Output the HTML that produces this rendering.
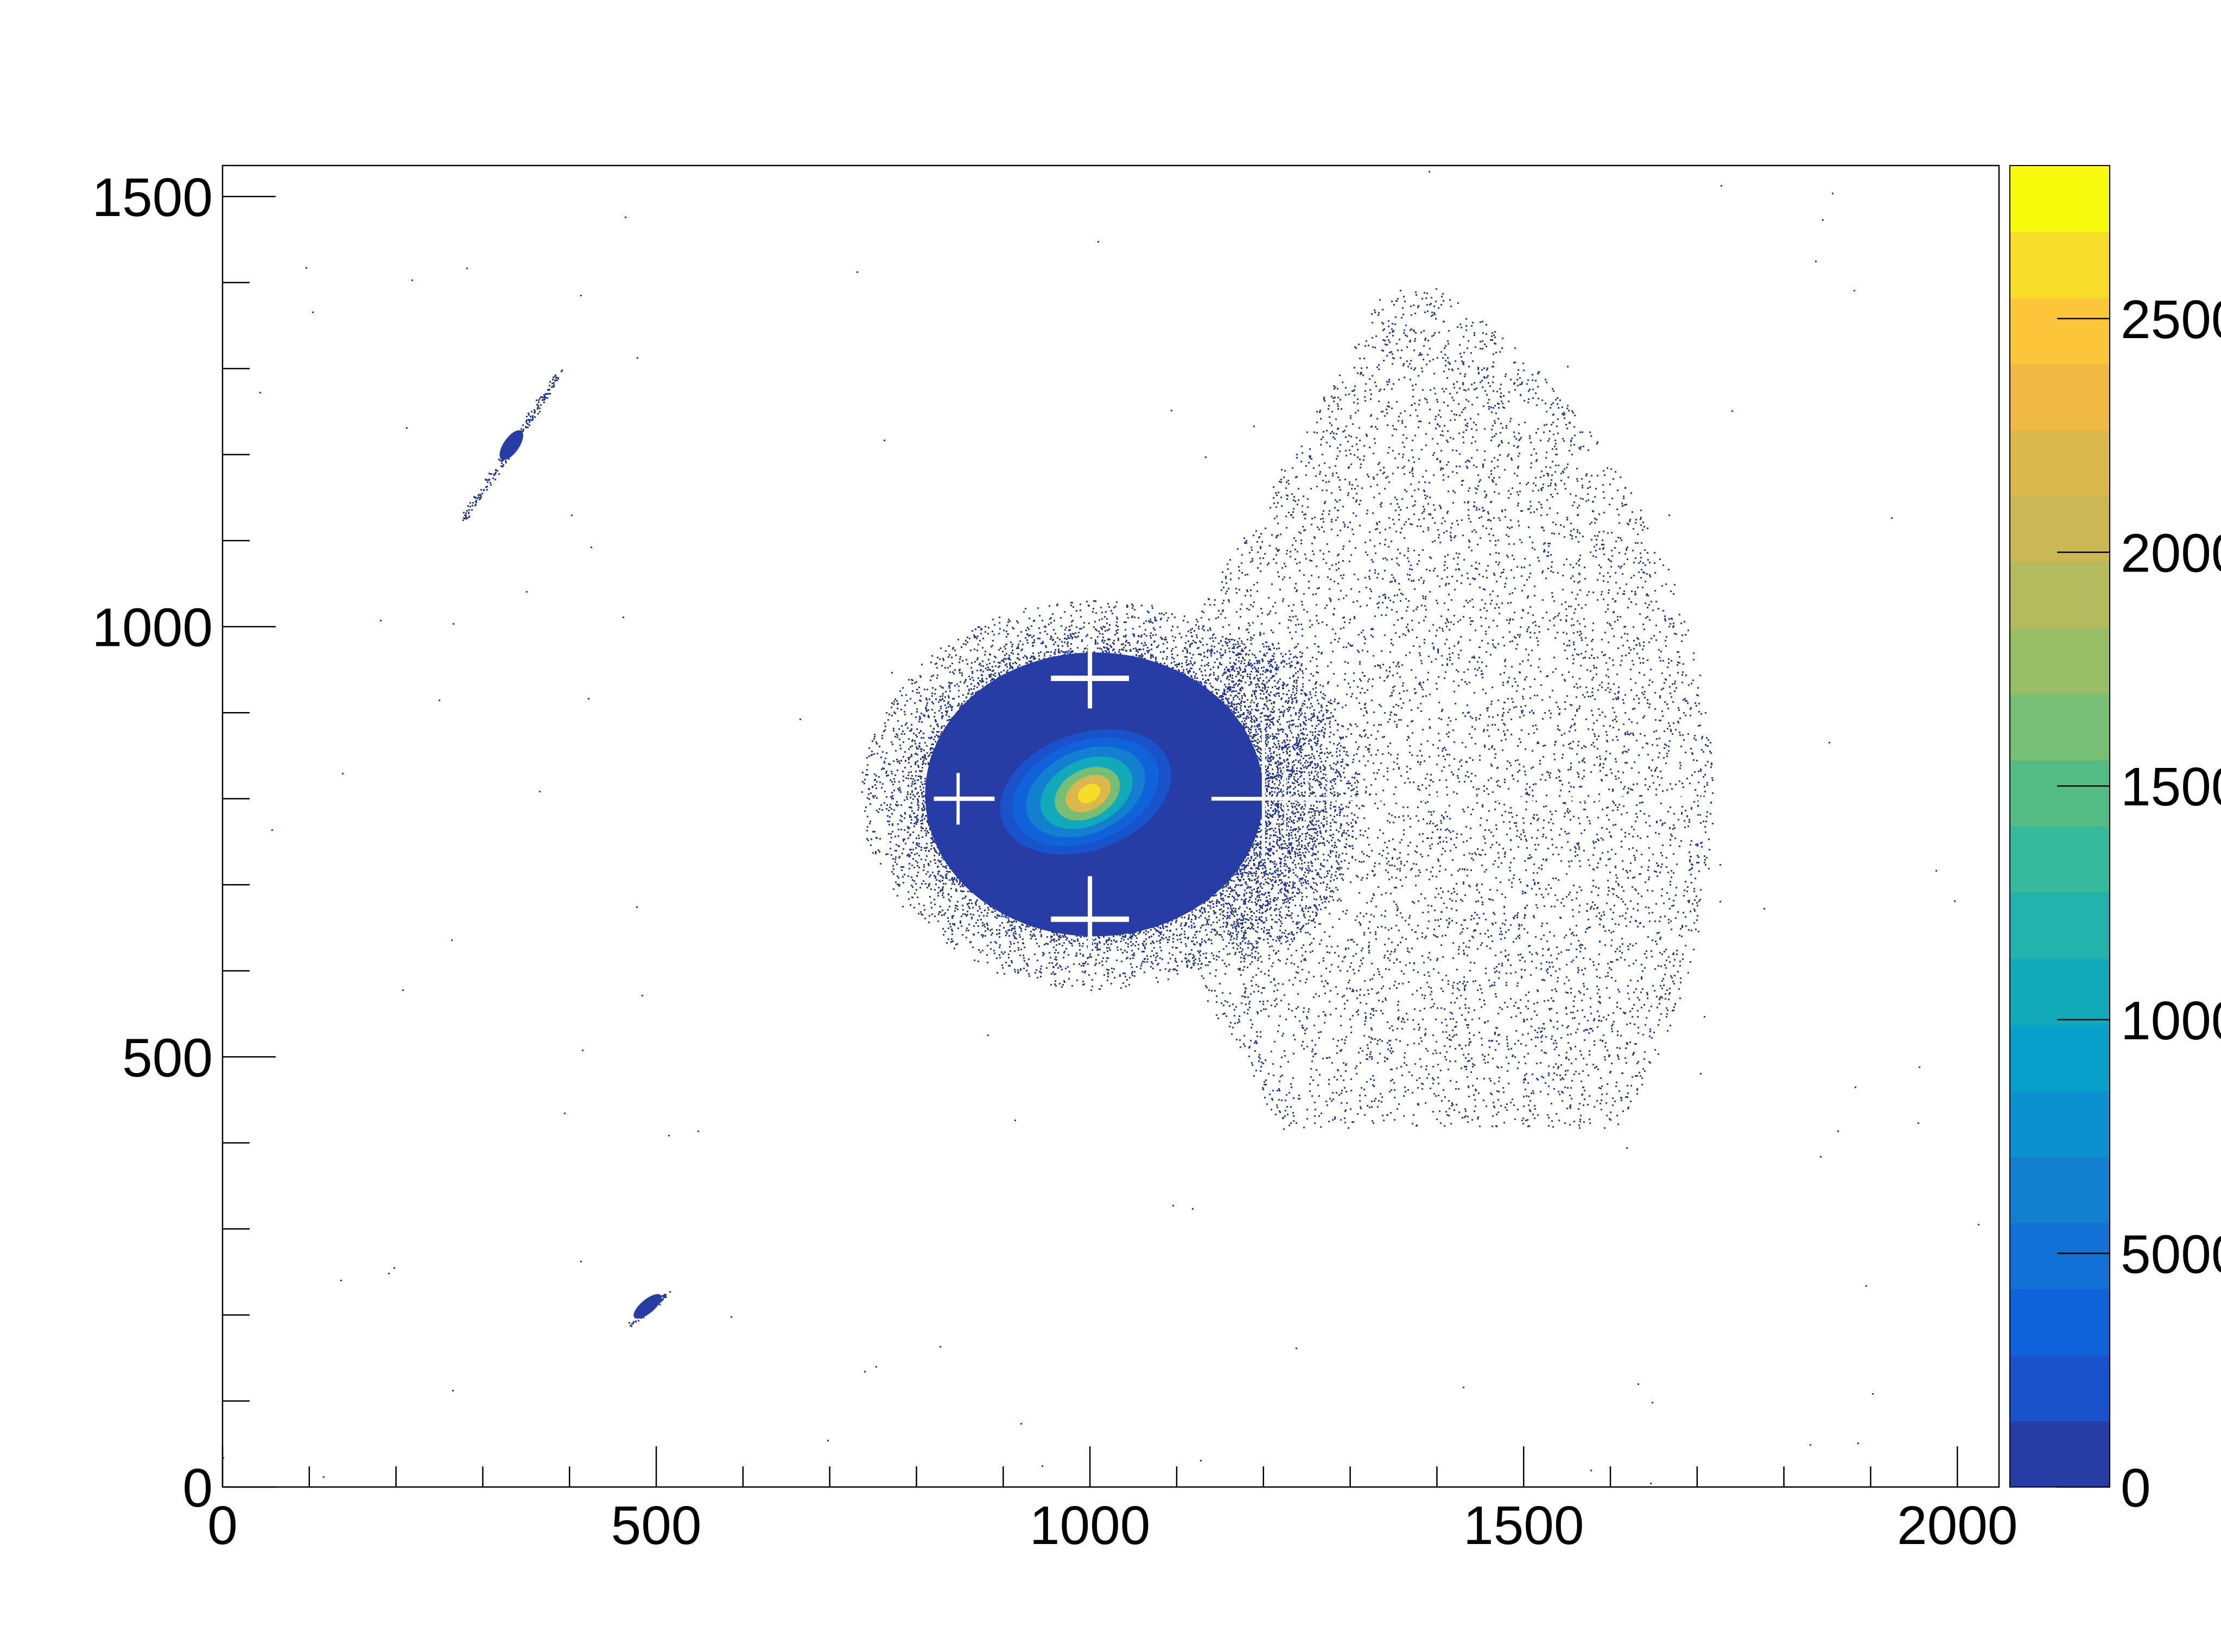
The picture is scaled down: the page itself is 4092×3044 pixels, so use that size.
<!DOCTYPE html>
<html><head><meta charset="utf-8"><title>2D histogram</title>
<style>
html,body{margin:0;padding:0;background:#fff;}
svg{display:block;}
text{font-family:"Liberation Sans",sans-serif;font-size:100px;fill:#000;}
</style></head>
<body>
<svg id="chart" width="4092" height="3044" viewBox="0 0 4092 3044" xmlns="http://www.w3.org/2000/svg">
<rect x="0" y="0" width="4092" height="3044" fill="#fff"/>
<g id="plot"></g>
<g id="axes"></g>
<g id="cbar"></g>
</svg>
<script>
// ---- data ----
const xTicks = [0, 500, 1000, 1500, 2000];
const yTicks = [0, 500, 1000, 1500];
const zTicks = [0, 5000, 10000, 15000, 20000, 25000];
const zTickLabels = ["0", "5000", "10000", "15000", "20000", "25000"];
const xRange = [0, 2048];
const yRange = [0, 1536];
const zMax = 28275;
const palette = ["#283ca5","#1953cc","#1063d8","#1171d4","#1380cf","#0b91cf","#06a0cb","#12aabb","#21b3ab","#36b99a","#53bc85","#76be74","#97bd66","#b2bb5c","#c9b854","#dcb74c","#efb944","#fcc63a","#f6dc27","#f9fb0e"];
// blob contour levels: centre x, centre y, radius x, radius y, rotation deg, palette index
const blobCx = [1005, 995, 995, 995, 996, 997, 998, 999];
const blobCy = [805, 808, 808, 808, 807, 806, 806, 806];
const blobRx = [195, 102, 88, 72, 56, 40, 28, 14];
const blobRy = [165, 68, 58, 48, 38, 28, 19, 10];
const blobRot = [0, -20, -22, -24, -26, -28, -30, -32];
const blobLevel = [0, 1, 2, 4, 7, 11, 15, 18];
// small satellite blobs: x, y, rx, ry, rotation
const satX = [333, 490];
const satY = [1211, 210];
const satRx = [20, 20];
const satRy = [9, 8];
const satRot = [-55, -40];
// white detector gaps (cross marks): x1,y1,x2,y2
const gapX1 = [955, 1000, 955, 1000, 820, 848, 1140, 1200, 1225, 1250, 1275];
const gapY1 = [940, 905, 660, 625, 800, 770, 800, 730, 760, 770, 775];
const gapX2 = [1045, 1000, 1045, 1000, 890, 848, 1730, 1200, 1225, 1250, 1275];
const gapY2 = [940, 985, 660, 710, 800, 830, 800, 880, 840, 830, 825];
const gapW = [10, 8, 10, 8, 8, 6, 7, 6, 4, 4, 4];

// ---- axes functions ----
const L = 410, R = 3683, T = 305, B = 2740;
const CL = 3703, CR = 3887;
const sx = v => L + (v - xRange[0]) / (xRange[1] - xRange[0]) * (R - L);
const sy = v => B - (v - yRange[0]) / (yRange[1] - yRange[0]) * (B - T);
const sz = v => B - v / zMax * (B - T);
const NS = "http://www.w3.org/2000/svg";
function mk(tag, attrs, parent) {
  const e = document.createElementNS(NS, tag);
  for (const k in attrs) e.setAttribute(k, attrs[k]);
  parent.appendChild(e);
  return e;
}
const plot = document.getElementById('plot');
const axes = document.getElementById('axes');
const cbar = document.getElementById('cbar');
const kx = (R - L) / (xRange[1] - xRange[0]);
const ky = (B - T) / (yRange[1] - yRange[0]);

// deterministic texture generator for sparse scatter
let seed = 12345;
function rnd() { seed = (seed * 1103515245 + 12345) % 2147483648; return seed / 2147483648; }
const dot = (x, y) => `M${sx(x).toFixed(0)} ${sy(y).toFixed(0)}h3v3h-3z`;

let dots = "";
// sparse fan (right side), circle about (1000,800) radius ~715, denser toward arc
for (let i = 0; i < 9000; i++) {
  const a = (rnd() - 0.5) * 2.1;
  const r = Math.pow(rnd(), 0.45) * 718;
  if (r < 200) continue;
  const x = 1000 + r * Math.cos(a);
  const y = 800 + r * Math.sin(a);
  if (y < 418 || y > 1395) continue;
  dots += dot(x, y);
}
// halo around main blob (denser near core)
for (let i = 0; i < 26000; i++) {
  const a = rnd() * Math.PI * 2;
  const r = 0.95 + Math.pow(rnd(), 2.2) * 0.4;
  const x = 1005 + 200 * r * Math.cos(a);
  const y = 805 + 168 * r * Math.sin(a);
  dots += dot(x, y);
}
// right lobe of halo (soft)
for (let i = 0; i < 2500; i++) {
  const a = (rnd() - 0.5) * 2.6;
  const r = Math.pow(rnd(), 0.8) * 190;
  dots += dot(1120 + r * Math.cos(a), 800 + 1.1 * r * Math.sin(a));
}
// satellite tails
for (let i = 0; i < 220; i++) {
  const t = (rnd() - 0.5) * 2;
  dots += dot(333 + t * 55 + (rnd() - 0.5) * 8, 1211 + t * 85 + (rnd() - 0.5) * 8);
}
for (let i = 0; i < 60; i++) {
  const t = (rnd() - 0.5) * 2;
  dots += dot(492 + t * 22 + (rnd() - 0.5) * 5, 208 + t * 18 + (rnd() - 0.5) * 5);
}
// isolated background dots
for (let i = 0; i < 120; i++) {
  dots += dot(rnd() * 2040, rnd() * 1530);
}
const sc = mk('path', {d: dots, fill: palette[0]}, plot);



// main blob levels
for (let i = 0; i < blobCx.length; i++) {
  const e = mk('ellipse', {cx: sx(blobCx[i]), cy: sy(blobCy[i]), rx: blobRx[i] * kx, ry: blobRy[i] * ky,
    fill: palette[blobLevel[i]], transform: `rotate(${blobRot[i]} ${sx(blobCx[i])} ${sy(blobCy[i])})`}, plot);
  
  
}
// satellites
for (let i = 0; i < satX.length; i++) {
  const e = mk('ellipse', {cx: sx(satX[i]), cy: sy(satY[i]), rx: satRx[i] * kx, ry: satRy[i] * ky,
    fill: palette[0], transform: `rotate(${satRot[i]} ${sx(satX[i])} ${sy(satY[i])})`}, plot);
  
  
}
// gaps
for (let i = 0; i < gapX1.length; i++) {
  const g = mk('line', {x1: sx(gapX1[i]), y1: sy(gapY1[i]), x2: sx(gapX2[i]), y2: sy(gapY2[i]), stroke: '#fff', 'stroke-width': gapW[i]}, plot);
  
  
}

// frame
const fr = mk('rect', {x: L, y: T, width: R - L, height: B - T, fill: 'none', stroke: '#000', 'stroke-width': 2.5}, axes);


// x ticks
for (let v = 0; v <= 2000; v += 100) {
  const major = v % 500 === 0;
  const t = mk('line', {x1: sx(v), y1: B, x2: sx(v), y2: B - (major ? 75 : 38), stroke: '#000', 'stroke-width': 2.5}, axes);
  
  
}
xTicks.forEach(v => {
  const t = mk('text', {x: sx(v), y: 2845, 'text-anchor': 'middle'}, axes);
  t.textContent = String(v);
  
  
});
// y ticks
for (let v = 0; v <= 1500; v += 100) {
  const major = v % 500 === 0;
  const t = mk('line', {x1: L, y1: sy(v), x2: L + (major ? 98 : 50), y2: sy(v), stroke: '#000', 'stroke-width': 2.5}, axes);
  
  
}
yTicks.forEach(v => {
  const t = mk('text', {x: 392, y: sy(v) + 36, 'text-anchor': 'end'}, axes);
  t.textContent = String(v);
  
  
});
// colour bar
const bandH = zMax / palette.length;
palette.forEach((c, i) => {
  const y1 = sz((i + 1) * bandH), y0 = sz(i * bandH);
  const r = mk('rect', {x: CL, y: y1, width: CR - CL, height: y0 - y1 + 0.5, fill: c}, cbar);
  
  
});
const cf = mk('rect', {x: CL, y: T, width: CR - CL, height: B - T, fill: 'none', stroke: '#000', 'stroke-width': 2}, cbar);


zTicks.forEach((v, i) => {
  const t = mk('line', {x1: CR, y1: sz(v), x2: CR - 97, y2: sz(v), stroke: '#000', 'stroke-width': 2.5}, cbar);
  
  
  const l = mk('text', {x: 3907, y: sz(v) + 36}, cbar);
  l.textContent = zTickLabels[i];
  
  
});
</script>
</body></html>
